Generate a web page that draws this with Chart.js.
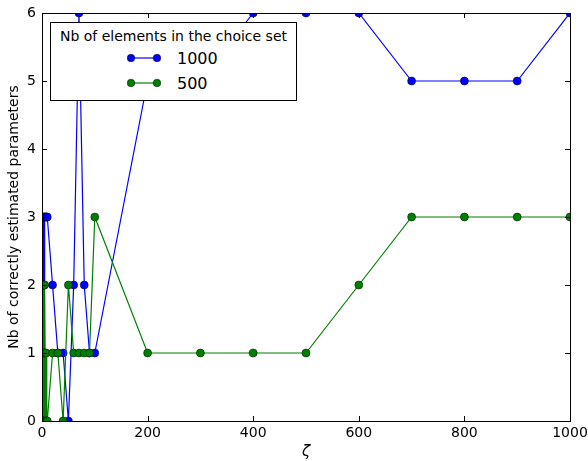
<!DOCTYPE html>
<html>
<head>
<meta charset="utf-8">
<script src="https://cdn.jsdelivr.net/npm/chart.js@4/dist/chart.umd.min.js"></script>
<style>
  body { margin: 0; background: #fff; }
  #wrap { position: relative; width: 588px; height: 461px; font-family: "DejaVu Sans", sans-serif; }
  #legend {
    position: absolute; left: 50px; top: 22px; width: 247px; height: 79px;
    box-sizing: border-box; border: 1px solid #000; background: #fff;
  }
  #legend .ttl { position: absolute; left: 0; right: 0; top: 5px; text-align: center; font-size: 14px; color: #000; }
  #legend .row { position: absolute; left: 76px; height: 20px; display: flex; align-items: center; }
  #legend .row span { font-size: 16px; margin-left: 16px; color: #000; }
</style>
</head>
<body>
<div id="wrap">
  <canvas id="c" width="588" height="461"></canvas>
  <div id="legend">
    <div class="ttl">Nb of elements in the choice set</div>
    <div class="row" style="top:25px">
      <svg width="34" height="12"><line x1="4" y1="6" x2="30" y2="6" stroke="#0000ff" stroke-width="1.2"/><circle cx="4" cy="6" r="3.8" fill="#0000ff" stroke="#000" stroke-width="0.5"/><circle cx="30" cy="6" r="3.8" fill="#0000ff" stroke="#000" stroke-width="0.5"/></svg>
      <span>1000</span>
    </div>
    <div class="row" style="top:50px">
      <svg width="34" height="12"><line x1="4" y1="6" x2="30" y2="6" stroke="#008000" stroke-width="1.2"/><circle cx="4" cy="6" r="3.8" fill="#008000" stroke="#000" stroke-width="0.5"/><circle cx="30" cy="6" r="3.8" fill="#008000" stroke="#000" stroke-width="0.5"/></svg>
      <span>500</span>
    </div>
  </div>
</div>
<script>
// zeta values shared by both series
const zeta = [0.5, 1, 1.5, 2, 2.5, 3, 3.5, 4, 5, 6, 7, 8, 9, 10,
              20, 30, 40, 50, 60, 70, 80, 90, 100,
              200, 300, 400, 500, 600, 700, 800, 900, 1000];
const set1000 = [0, 3, 0, 3, 1, 3, 0, 2, 3, 3, 3, 3, 3, 3,
                 2, 1, 1, 0, 2, 6, 2, 1, 1,
                 5, 5, 6, 6, 6, 5, 5, 5, 6];
const set500 = [0, 2, 0, 2, 0, 1, 2, 0, 2, 1, 0, 1, 0, 0,
                1, 1, 0, 2, 1, 1, 1, 1, 3,
                1, 1, 1, 1, 2, 3, 3, 3, 3];
const xTicks = [0, 200, 400, 600, 800, 1000];
const yTicks = [0, 1, 2, 3, 4, 5, 6];

const FONT = '"DejaVu Sans", sans-serif';

function series(ys) {
    return zeta.map((x, i) => ({ x: x, y: ys[i] }));
}

// inward ticks on all four sides + black frame, matplotlib style
const frame = {
    id: 'frame',
    afterDraw(chart) {
        const { ctx, chartArea: a, scales } = chart;
        ctx.save();
        ctx.strokeStyle = '#000';
        ctx.lineWidth = 1;
        ctx.beginPath();
        xTicks.forEach(v => {
            const px = Math.round(scales.x.getPixelForValue(v)) + 0.5;
            ctx.moveTo(px, a.bottom); ctx.lineTo(px, a.bottom - 5);
            ctx.moveTo(px, a.top); ctx.lineTo(px, a.top + 5);
        });
        yTicks.forEach(v => {
            const py = Math.round(scales.y.getPixelForValue(v)) + 0.5;
            ctx.moveTo(a.left, py); ctx.lineTo(a.left + 5, py);
            ctx.moveTo(a.right, py); ctx.lineTo(a.right - 5, py);
        });
        ctx.stroke();
        ctx.strokeRect(Math.round(a.left) + 0.5, Math.round(a.top) + 0.5,
                       Math.round(a.right - a.left), Math.round(a.bottom - a.top));
        ctx.restore();
    }
};

const lineStyle = {
    borderWidth: 1.2, pointRadius: 4, pointBorderWidth: 0.5,
    pointBorderColor: '#000', tension: 0
};

new Chart(document.getElementById('c'), {
    type: 'line',
    data: {
        datasets: [
            Object.assign({
                label: '1000', data: series(set1000), order: 1,
                borderColor: '#0000ff', backgroundColor: '#0000ff', pointBackgroundColor: '#0000ff'
            }, lineStyle),
            Object.assign({
                label: '500', data: series(set500), order: 0,
                borderColor: '#008000', backgroundColor: '#008000', pointBackgroundColor: '#008000'
            }, lineStyle)
        ]
    },
    options: {
        responsive: false,
        animation: false,
        devicePixelRatio: 1,
        layout: { padding: { top: 13, right: 18, left: 0, bottom: 0 } },
        plugins: { legend: { display: false }, tooltip: { enabled: false } },
        scales: {
            x: {
                type: 'linear', min: 0, max: 1000,
                afterFit: s => { s.height = 40; s.paddingLeft = 0; s.paddingRight = 0; },
                afterBuildTicks: s => { s.ticks = xTicks.map(v => ({ value: v })); },
                grid: { display: false, drawTicks: false },
                border: { display: false },
                ticks: { color: '#000', font: { family: FONT, size: 14 }, padding: 4, maxRotation: 0, callback: v => String(v) },
                title: { display: true, text: 'ζ', color: '#000', font: { family: FONT, size: 15, style: 'italic' }, padding: { top: 0, bottom: 0 } }
            },
            y: {
                min: 0, max: 6,
                afterFit: s => { s.width = 42; s.paddingTop = 0; s.paddingBottom = 0; },
                afterBuildTicks: s => { s.ticks = yTicks.map(v => ({ value: v })); },
                grid: { display: false, drawTicks: false },
                border: { display: false },
                ticks: { color: '#000', font: { family: FONT, size: 14 }, padding: 6 },
                title: { display: true, text: 'Nb of correctly estimated parameters', color: '#000', font: { family: FONT, size: 14 }, padding: { top: 6, bottom: 0 } }
            }
        }
    },
    plugins: [frame]
});
</script>
</body>
</html>
